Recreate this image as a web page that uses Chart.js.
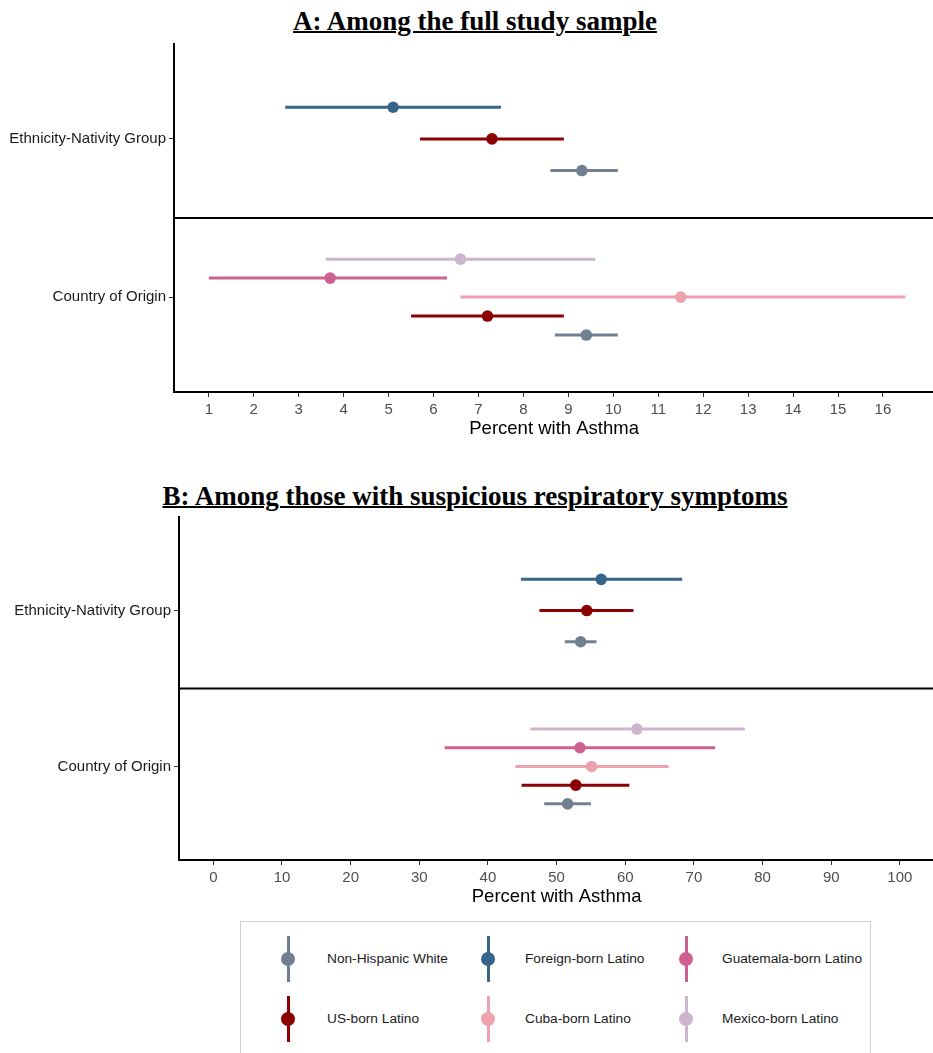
<!DOCTYPE html>
<html>
<head>
<meta charset="utf-8">
<script src="https://cdn.jsdelivr.net/npm/chart.js@4.4.0/dist/chart.umd.min.js"></script>
<style>
    body { margin: 0; background: #fff; width: 933px; height: 1053px; overflow: hidden; position: relative;
           font-family: "Liberation Sans", Arial, sans-serif; }
    .title { position: absolute; left: 0; width: 950px; text-align: center; color: #000;
             font-family: "Liberation Serif", "Times New Roman", serif; font-weight: bold; font-size: 27px;
             line-height: 30px; text-decoration: underline; text-decoration-thickness: 2px; }
    canvas { position: absolute; left: 0; }
    #legend { position: absolute; left: 240px; top: 921px; width: 631px; height: 140px;
              border: 1px solid #cfcfcf; box-sizing: border-box; }
    .key { position: absolute; width: 14px; height: 46px; }
    .key .bar { position: absolute; left: 5.5px; top: 0; width: 3px; height: 46px; }
    .key .dot { position: absolute; left: 0; top: 16px; width: 14px; height: 14px; border-radius: 50%; }
    .lbl { position: absolute; font-size: 13.7px; color: #1a1a1a; white-space: nowrap; line-height: 16px; }
</style>
</head>
<body>
<div class="title" style="top:6px">A: Among the full study sample</div>
<canvas id="chartA" width="940" height="442" style="top:0"></canvas>
<div class="title" style="top:481px">B: Among those with suspicious respiratory symptoms</div>
<canvas id="chartB" width="940" height="450" style="top:460px"></canvas>
<div id="legend"></div>

<script>
// rows on the y axis (bottom to top)
const rowLabels = ['Country of Origin', 'Ethnicity-Nativity Group'];

// groups inside each row, top to bottom
const ethGroups = ['Foreign-born Latino', 'US-born Latino', 'Non-Hispanic White'];
const cooGroups = ['Mexico-born Latino', 'Guatemala-born Latino', 'Cuba-born Latino', 'US-born Latino', 'Non-Hispanic White'];

// Panel A: full study sample
const ethEstA = [5.1, 7.3, 9.3];
const ethLowA = [2.7, 5.7, 8.6];
const ethHighA = [7.5, 8.9, 10.1];
const cooEstA = [6.6, 3.7, 11.5, 7.2, 9.4];
const cooLowA = [3.6, 1.0, 6.6, 5.5, 8.7];
const cooHighA = [9.6, 6.3, 16.5, 8.9, 10.1];
const xTicksA = [1, 2, 3, 4, 5, 6, 7, 8, 9, 10, 11, 12, 13, 14, 15, 16];

// Panel B: suspicious respiratory symptoms
const ethEstB = [56.5, 54.4, 53.5];
const ethLowB = [44.8, 47.5, 51.2];
const ethHighB = [68.3, 61.2, 55.8];
const cooEstB = [61.7, 53.4, 55.1, 52.8, 51.6];
const cooLowB = [46.2, 33.7, 44.0, 44.9, 48.2];
const cooHighB = [77.4, 73.1, 66.3, 60.6, 55.0];
const xTicksB = [0, 10, 20, 30, 40, 50, 60, 70, 80, 90, 100];

const legendGroups = ['Non-Hispanic White', 'Foreign-born Latino', 'Guatemala-born Latino',
                      'US-born Latino', 'Cuba-born Latino', 'Mexico-born Latino'];

const groupColors = {
    'Non-Hispanic White': '#708090',
    'US-born Latino': '#8b0000',
    'Foreign-born Latino': '#36648b',
    'Cuba-born Latino': '#eea2ad',
    'Guatemala-born Latino': '#cd6090',
    'Mexico-born Latino': '#cdb5cd'
};

function rowDatasets(groups, est, low, high, row) {
    const n = groups.length;
    const step = 0.6 / n;
    const out = [];
    groups.forEach(function (g, i) {
        const y = row + ((n - 1) / 2 - i) * step;
        const c = groupColors[g];
        out.push({
            data: [{ x: low[i], y: y }, { x: high[i], y: y }],
            showLine: true, borderColor: c, borderWidth: 3, pointRadius: 0, borderCapStyle: 'butt'
        });
        out.push({
            data: [{ x: est[i], y: y }],
            backgroundColor: c, borderWidth: 0, pointRadius: 5.8
        });
    });
    return out;
}

// horizontal rule between the two rows
const dividerPlugin = {
    id: 'divider',
    afterDatasetsDraw(chart) {
        const ctx = chart.ctx;
        const y = chart.scales.y.getPixelForValue(0.5);
        ctx.save();
        ctx.strokeStyle = '#000';
        ctx.lineWidth = 2;
        ctx.beginPath();
        ctx.moveTo(chart.chartArea.left, y);
        ctx.lineTo(chart.chartArea.right, y);
        ctx.stroke();
        ctx.restore();
    }
};

function createChart(id, datasets, xMin, xMax, xTicks, leftWidth, topPad) {
    const ctx = document.getElementById(id).getContext('2d');
    return new Chart(ctx, {
        type: 'scatter',
        data: { datasets: datasets },
        options: {
            responsive: false,
            animation: false,
            layout: { padding: { top: topPad, right: 0, bottom: 0, left: 0 } },
            plugins: { legend: { display: false }, tooltip: { enabled: false } },
            scales: {
                x: {
                    type: 'linear',
                    min: xMin,
                    max: xMax,
                    afterBuildTicks: function (s) { s.ticks = xTicks.map(v => ({ value: v })); },
                    afterFit: function (s) { s.height = 50; },
                    grid: { drawOnChartArea: false, tickLength: 5, color: '#333', tickWidth: 1 },
                    border: { display: true, color: '#000', width: 2 },
                    ticks: { color: '#4d4d4d', font: { size: 15, family: 'Liberation Sans' }, padding: 4, maxRotation: 0 },
                    title: { display: true, text: 'Percent with Asthma', color: '#000',
                             font: { size: 18.5, family: 'Liberation Sans' }, padding: { top: 0, bottom: 2 } }
                },
                y: {
                    type: 'linear',
                    min: -0.6,
                    max: 1.6,
                    afterBuildTicks: function (s) { s.ticks = [{ value: 0 }, { value: 1 }]; },
                    afterFit: function (s) { s.width = leftWidth; },
                    grid: { drawOnChartArea: false, tickLength: 5, color: '#333', tickWidth: 1 },
                    border: { display: true, color: '#000', width: 2 },
                    ticks: { color: '#1a1a1a', font: { size: 15, family: 'Liberation Sans' }, padding: 3,
                             callback: v => rowLabels[v] }
                }
            }
        },
        plugins: [dividerPlugin]
    });
}

function buildLegend() {
    const box = document.getElementById('legend');
    const cols = [47, 247, 445];
    const textX = [86, 284, 481];
    const rows = [37, 97];
    legendGroups.forEach(function (g, i) {
        const r = Math.floor(i / 3), c = i % 3;
        const key = document.createElement('div');
        key.className = 'key';
        key.style.left = (cols[c] - 7) + 'px';
        key.style.top = (rows[r] - 23) + 'px';
        key.innerHTML = '<div class="bar" style="background:' + groupColors[g] + '"></div>' +
                        '<div class="dot" style="background:' + groupColors[g] + '"></div>';
        box.appendChild(key);
        const lbl = document.createElement('div');
        lbl.className = 'lbl';
        lbl.style.left = textX[c] + 'px';
        lbl.style.top = (rows[r] - 8) + 'px';
        lbl.textContent = g;
        box.appendChild(lbl);
    });
}

document.addEventListener('DOMContentLoaded', function () {
    const dsA = rowDatasets(ethGroups, ethEstA, ethLowA, ethHighA, 1)
        .concat(rowDatasets(cooGroups, cooEstA, cooLowA, cooHighA, 0));
    const dsB = rowDatasets(ethGroups, ethEstB, ethLowB, ethHighB, 1)
        .concat(rowDatasets(cooGroups, cooEstB, cooLowB, cooHighB, 0));
    createChart('chartA', dsA, 0.225, 17.14, xTicksA, 174, 44);
    createChart('chartB', dsB, -5, 105, xTicksB, 179, 57);
    buildLegend();
});
</script>
</body>
</html>
